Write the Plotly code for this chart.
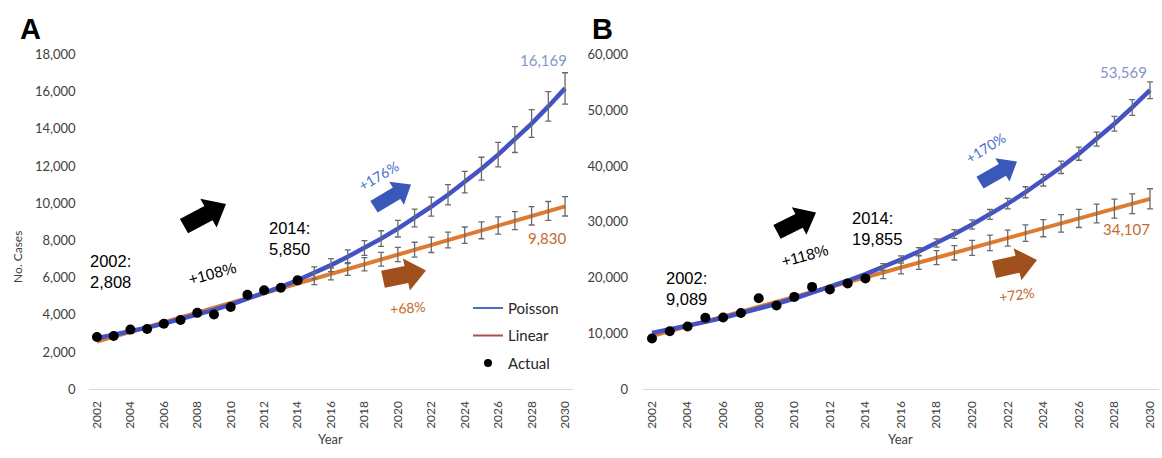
import math
import plotly.graph_objects as go

W, H = 1162, 458

# ---------------- data ----------------
years = [2002, 2003, 2004, 2005, 2006, 2007, 2008, 2009, 2010, 2011, 2012, 2013, 2014,
         2015, 2016, 2017, 2018, 2019, 2020, 2021, 2022, 2023, 2024, 2025, 2026, 2027,
         2028, 2029, 2030]
actual_years = [2002, 2003, 2004, 2005, 2006, 2007, 2008, 2009, 2010, 2011, 2012, 2013, 2014]
forecast_years = [2015, 2016, 2017, 2018, 2019, 2020, 2021, 2022, 2023, 2024, 2025, 2026,
                  2027, 2028, 2029, 2030]
x_tick_vals = [2002, 2004, 2006, 2008, 2010, 2012, 2014, 2016, 2018, 2020, 2022, 2024,
               2026, 2028, 2030]
x_tick_text = ["2002", "2004", "2006", "2008", "2010", "2012", "2014", "2016", "2018",
               "2020", "2022", "2024", "2026", "2028", "2030"]

a_actual = [2808, 2857, 3203, 3238, 3515, 3723, 4104, 4017, 4416, 5074, 5316, 5455, 5850]
a_poisson = [2735, 2914, 3105, 3308, 3525, 3756, 4002, 4264, 4544, 4841, 5158, 5496, 5858,
             6250, 6670, 7115, 7590, 8095, 8630, 9200, 9810, 10450, 11130, 11850, 12610,
             13420, 14280, 15200, 16169]
a_linear = [2560, 2820, 3080, 3340, 3600, 3860, 4120, 4380, 4640, 4900, 5160, 5420, 5680,
            5940, 6200, 6460, 6720, 6980, 7240, 7500, 7760, 8020, 8280, 8540, 8800, 9060,
            9320, 9580, 9830]
a_y_ticks = [0, 2000, 4000, 6000, 8000, 10000, 12000, 14000, 16000, 18000]

b_actual = [9089, 10370, 11240, 12800, 12850, 13660, 16300, 14990, 16540, 18330, 17870,
            18960, 19855]
b_poisson = [10080, 10700, 11358, 12056, 12797, 13584, 14419, 15306, 16247, 17246, 18306,
             19431, 20626, 21894, 23240, 24669, 26186, 27796, 29505, 31319, 33244, 35288,
             37458, 39761, 42205, 44800, 47555, 50478, 53569]
b_linear = [9500, 10379, 11258, 12137, 13016, 13895, 14774, 15653, 16532, 17411, 18290,
            19169, 20048, 20927, 21806, 22685, 23564, 24443, 25322, 26201, 27080, 27959,
            28838, 29717, 30596, 31475, 32354, 33233, 34107]
b_y_ticks = [0, 10000, 20000, 30000, 40000, 50000, 60000]

# error bar sizes (percent of forecast value)
a_poisson_err_pct = 5.2
a_linear_err_pct = 5.3
b_poisson_err_pct = 2.8
b_linear_err_pct = 5.3

# ---------------- styles ----------------
BLUE = "#4353C4"
ORANGE = "#DF7B30"
ERR = "#6A6A6A"
TICK_FONT = dict(family="Lato, 'Open Sans', sans-serif", size=13, color="#404040")
XTICK_FONT = dict(family="Lato, 'Open Sans', sans-serif", size=12, color="#404040")
ARIAL = "Liberation Sans, Arial, sans-serif"
LATO = "Lato, 'Open Sans', sans-serif"


def px_x(x):
    return x / W


def px_y(y):
    return 1 - y / H


def arrow_path(tail, tip, bw, hw, hl):
    tx, ty = tail
    ex, ey = tip
    dx, dy = ex - tx, ey - ty
    L = math.hypot(dx, dy)
    ux, uy = dx / L, dy / L
    nx, ny = -uy, ux
    hx, hy = ex - ux * hl, ey - uy * hl
    pts = [(tx + nx * bw / 2, ty + ny * bw / 2), (hx + nx * bw / 2, hy + ny * bw / 2),
           (hx + nx * hw / 2, hy + ny * hw / 2), (ex, ey),
           (hx - nx * hw / 2, hy - ny * hw / 2), (hx - nx * bw / 2, hy - ny * bw / 2),
           (tx - nx * bw / 2, ty - ny * bw / 2)]
    return "M " + " L ".join(f"{px_x(x):.5f},{px_y(y):.5f}" for x, y in pts) + " Z"


fig = go.Figure()


def add_panel(xa, ya, actual, poisson, linear, p_err, l_err):
    fig.add_trace(go.Scatter(x=years, y=linear, mode="lines", line=dict(color=ORANGE, width=4),
                             xaxis=xa, yaxis=ya, showlegend=False, hoverinfo="skip"))
    fig.add_trace(go.Scatter(x=years, y=poisson, mode="lines", line=dict(color=BLUE, width=4.5),
                             xaxis=xa, yaxis=ya, showlegend=False, hoverinfo="skip"))
    n = len(actual)
    fig.add_trace(go.Scatter(x=forecast_years, y=linear[n:], mode="markers",
                             marker=dict(size=1, opacity=0),
                             error_y=dict(type="percent", value=l_err, color=ERR,
                                          thickness=1.3, width=3),
                             xaxis=xa, yaxis=ya, showlegend=False, hoverinfo="skip"))
    fig.add_trace(go.Scatter(x=forecast_years, y=poisson[n:], mode="markers",
                             marker=dict(size=1, opacity=0),
                             error_y=dict(type="percent", value=p_err, color=ERR,
                                          thickness=1.3, width=3),
                             xaxis=xa, yaxis=ya, showlegend=False, hoverinfo="skip"))
    fig.add_trace(go.Scatter(x=actual_years, y=actual, mode="markers",
                             marker=dict(color="black", size=10),
                             xaxis=xa, yaxis=ya, showlegend=False))


add_panel("x", "y", a_actual, a_poisson, a_linear, a_poisson_err_pct, a_linear_err_pct)
add_panel("x2", "y2", b_actual, b_poisson, b_linear, b_poisson_err_pct, b_linear_err_pct)

# legend entries (panel A)
fig.add_trace(go.Scatter(x=[None], y=[None], mode="lines", name="Poisson",
                         line=dict(color="#4A6BC6", width=2), legendgroup="p"))
fig.add_trace(go.Scatter(x=[None], y=[None], mode="lines", name="Linear",
                         line=dict(color="#B04E48", width=2), legendgroup="l"))
fig.add_trace(go.Scatter(x=[None], y=[None], mode="markers", name="Actual",
                         marker=dict(color="black", size=8), legendgroup="a"))

common_x = dict(range=[2001.5, 2030.5], tickmode="array", tickvals=x_tick_vals,
                ticktext=x_tick_text, tickangle=-90, showgrid=False, zeroline=False,
                showline=True, linecolor="#D9D9D9", linewidth=1, ticks="",
                tickfont=XTICK_FONT, ticklabelstandoff=6, fixedrange=True)
common_y = dict(showgrid=False, zeroline=False, showline=False, ticks="",
                tickformat=",", tickfont=TICK_FONT, fixedrange=True)

y0 = px_y(395)
y1 = px_y(48)

shapes = []
for tail, tip, bw, hw, hl, col in [
    ((184, 226), (226, 203), 17, 34, 20, "#000000"),
    ((374, 206), (411, 183), 14, 28, 17, "#3A58BA"),
    ((383, 281), (426, 272), 18, 34, 20, "#A0501C"),
    ((777, 232), (816, 212), 16, 32, 19, "#000000"),
    ((980, 181), (1017, 159), 14, 28, 17, "#3A58BA"),
    ((994, 271), (1037, 261), 18, 34, 20, "#A0501C"),
]:
    shapes.append(dict(type="path", path=arrow_path(tail, tip, bw, hw, hl), xref="paper",
                       yref="paper", fillcolor=col, line=dict(width=0), layer="above"))

annotations = []


def note(text, x, y, color="black", size=16, family=ARIAL, angle=0, xanchor="center",
         yanchor="middle", align="center"):
    annotations.append(dict(text=text, x=px_x(x), y=px_y(y), xref="paper", yref="paper",
                            showarrow=False, font=dict(color=color, size=size, family=family),
                            textangle=angle, xanchor=xanchor, yanchor=yanchor, align=align))


# panel letters
note("<b>A</b>", 30, 22, size=29)
note("<b>B</b>", 602, 22, size=29)
# axis titles
note("No. Cases", 18, 258, color="#404040", size=12, family=LATO, angle=-90)
note("Year", 330, 447, color="#404040", size=13, family=LATO)
note("Year", 900, 447, color="#404040", size=13, family=LATO)
# panel A texts
note("2002:<br>2,808", 88, 273, size=16.5, xanchor="left", align="left")
note("2014:<br>5,850", 267, 239, size=16.5, xanchor="left", align="left")
note("+108%", 212, 275, size=15.5, angle=-15)
note("+176%", 379, 174, color="#4A6FCF", size=14, family=LATO, angle=-30)
note("+68%", 408, 310, color="#C56A2D", size=14, family=LATO, angle=-5)
note("16,169", 543, 54, color="#8497C8", size=15, family=LATO)
note("9,830", 547, 238, color="#C56A2D", size=15, family=LATO)
# panel B texts
note("2002:<br>9,089", 664, 291, size=16.5, xanchor="left", align="left")
note("2014:<br>19,855", 850, 228, size=16.5, xanchor="left", align="left")
note("+118%", 805, 256, size=15.5, angle=-15)
note("+170%", 986, 145, color="#4A6FCF", size=14, family=LATO, angle=-32)
note("+72%", 1017, 297, color="#C56A2D", size=14, family=LATO, angle=-8)
note("53,569", 1123, 66, color="#8497C8", size=15, family=LATO)
note("34,107", 1126, 229, color="#C56A2D", size=15, family=LATO)

fig.update_layout(
    width=W, height=H, autosize=False,
    margin=dict(l=0, r=0, t=0, b=0),
    paper_bgcolor="white", plot_bgcolor="white",
    xaxis=dict(domain=[px_x(88.6), px_x(573.4)], anchor="y", **common_x),
    yaxis=dict(domain=[y0, y1], anchor="x", range=[0, 18000], tickvals=a_y_ticks,
               ticklabelstandoff=12, **common_y),
    xaxis2=dict(domain=[px_x(643.1), px_x(1158.9)], anchor="y2", **common_x),
    yaxis2=dict(domain=[y0, y1], anchor="x2", range=[0, 60000], tickvals=b_y_ticks,
                ticklabelstandoff=14, **common_y),
    legend=dict(x=px_x(468), y=px_y(294), xanchor="left", yanchor="top",
                font=dict(family=LATO, size=15, color="#262626"), bgcolor="rgba(0,0,0,0)",
                tracegroupgap=5, itemclick=False, itemdoubleclick=False),
    shapes=shapes,
    annotations=annotations,
    hovermode=False,
)

post = (
    "var d=document.getElementById('{plot_id}');"
    "document.documentElement.style.margin='0';document.documentElement.style.padding='0';"
    "document.documentElement.style.overflow='hidden';"
    "document.body.style.margin='0';document.body.style.padding='0';"
    "document.body.style.overflow='hidden';"
    "d.style.position='fixed';d.style.left='0px';d.style.top='0px';"
)

fig.write_html("out.html", config={"displayModeBar": False}, post_script=post)
